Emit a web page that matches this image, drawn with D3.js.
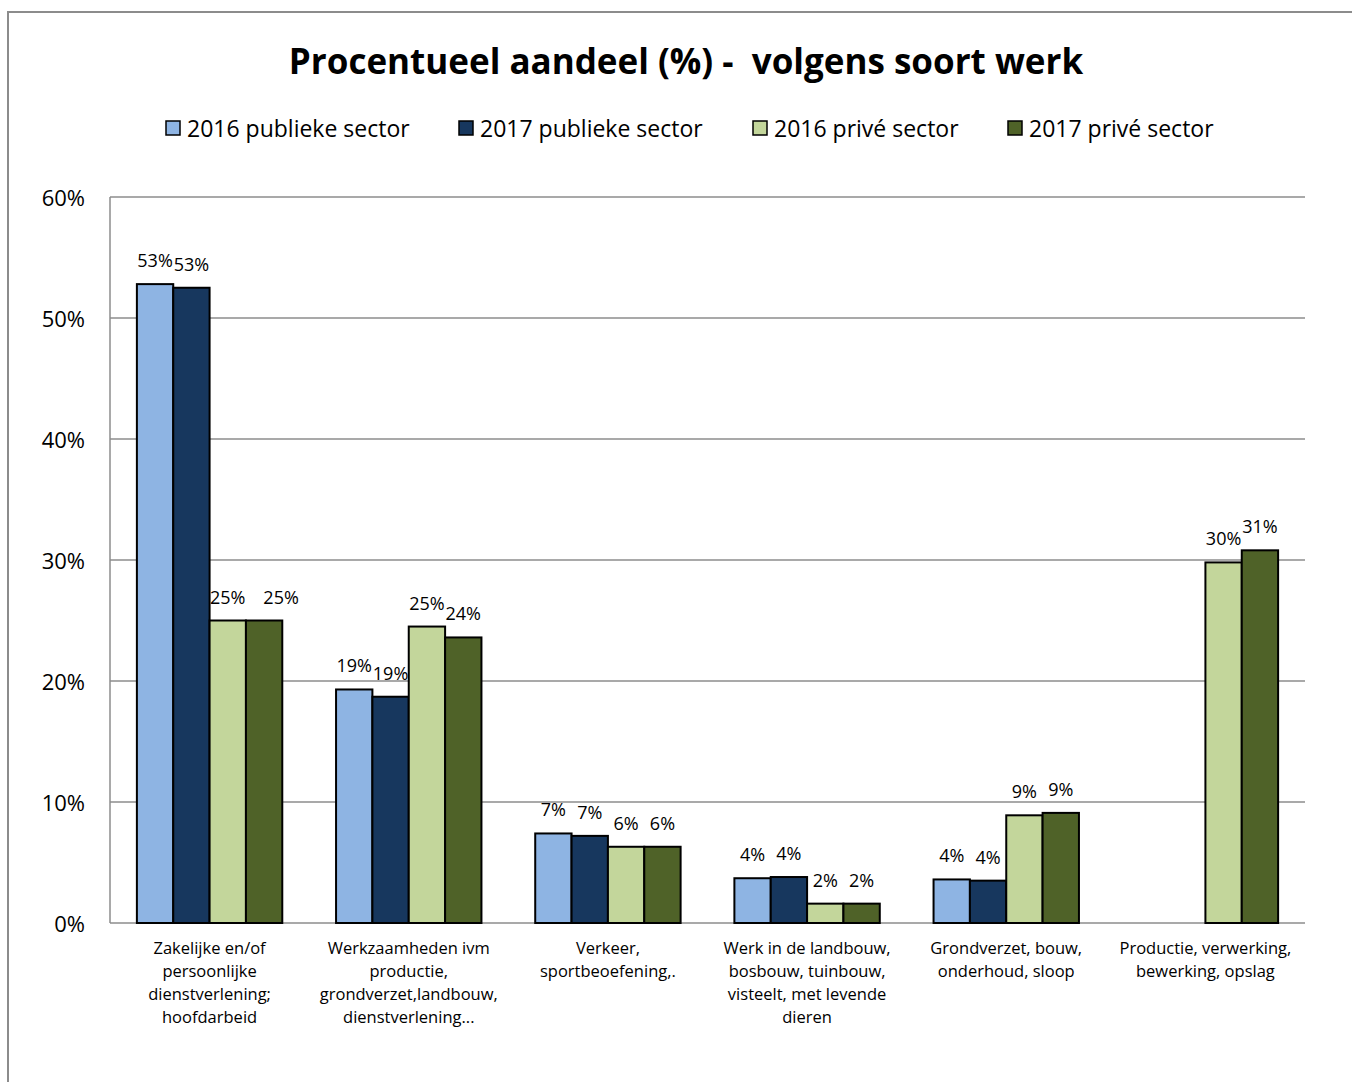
<!DOCTYPE html>
<html>
<head>
<meta charset="utf-8">
<script src="https://d3js.org/d3.v7.min.js"></script>
<style>
  body { margin: 0; background: #fff; }
  svg { font-family: "Open Sans", Lato, sans-serif; }
</style>
</head>
<body>
<svg width="1352" height="1082"></svg>
<script>
// chart data
var categories = [
  ["Zakelijke en/of", "persoonlijke", "dienstverlening;", "hoofdarbeid"],
  ["Werkzaamheden ivm", "productie,", "grondverzet,landbouw,", "dienstverlening..."],
  ["Verkeer,", "sportbeoefening,."],
  ["Werk in de landbouw,", "bosbouw, tuinbouw,", "visteelt, met levende", "dieren"],
  ["Grondverzet, bouw,", "onderhoud, sloop"],
  ["Productie, verwerking,", "bewerking, opslag"]
];
var seriesNames = ["2016 publieke sector", "2017 publieke sector", "2016 privé sector", "2017 privé sector"];
var pub2016 = [52.8, 19.3, 7.4, 3.7, 3.6, null];
var pub2017 = [52.5, 18.7, 7.2, 3.8, 3.5, null];
var priv2016 = [25.0, 24.5, 6.3, 1.6, 8.9, 29.8];
var priv2017 = [25.0, 23.6, 6.3, 1.6, 9.1, 30.8];
var yTicks = [0, 10, 20, 30, 40, 50, 60];

var colors = ["#8eb4e3", "#17375e", "#c3d69b", "#4f6228"];
var series = [pub2016, pub2017, priv2016, priv2017];

var svg = d3.select("svg");

// outer chart frame
svg.append("rect")
    .attr("x", 8).attr("y", 12)
    .attr("width", 1400).attr("height", 1100)
    .attr("fill", "none")
    .attr("stroke", "#8c8c8c")
    .attr("stroke-width", 2);

var plotL = 110, plotR = 1305, plotT = 197, plotB = 923;

var x = d3.scaleBand()
    .domain(d3.range(categories.length))
    .range([plotL, plotR])
    .paddingInner(0.27)
    .paddingOuter(0.135);

var xs = d3.scaleBand()
    .domain(d3.range(series.length))
    .range([0, x.bandwidth()]);

var y = d3.scaleLinear()
    .domain([0, 60])
    .range([plotB, plotT]);

// gridlines
svg.append("g")
    .selectAll("line")
    .data(yTicks)
    .enter()
    .append("line")
    .attr("x1", plotL).attr("x2", plotR)
    .attr("y1", function(d){ return y(d) })
    .attr("y2", function(d){ return y(d) })
    .attr("stroke", "#8c8c8c")
    .attr("stroke-width", 1.5);

// y axis line
svg.append("line")
    .attr("x1", plotL).attr("x2", plotL)
    .attr("y1", plotT).attr("y2", plotB)
    .attr("stroke", "#8c8c8c")
    .attr("stroke-width", 1.5);

// y tick labels
svg.append("g")
    .selectAll("text")
    .data(yTicks)
    .enter()
    .append("text")
    .attr("x", 85)
    .attr("y", function(d){ return y(d) })
    .attr("text-anchor", "end")
    .attr("dominant-baseline", "central")
    .style("font-size", "22px")
    .text(function(d){ return d + "%" });

// bars
var groups = svg.append("g")
    .selectAll("g")
    .data(series)
    .enter()
    .append("g");

groups.selectAll("rect")
    .data(function(s, si){ return s.map(function(v, ci){ return {v: v, si: si, ci: ci} }) })
    .enter()
    .filter(function(d){ return d.v !== null })
    .append("rect")
    .attr("x", function(d){ return x(d.ci) + xs(d.si) })
    .attr("y", function(d){ return y(d.v) })
    .attr("width", xs.bandwidth())
    .attr("height", function(d){ return y(0) - y(d.v) })
    .attr("fill", function(d){ return colors[d.si] })
    .attr("stroke", "#000")
    .attr("stroke-width", 2);

// data labels
groups.selectAll("text")
    .data(function(s, si){ return s.map(function(v, ci){ return {v: v, si: si, ci: ci} }) })
    .enter()
    .filter(function(d){ return d.v !== null })
    .append("text")
    .attr("x", function(d){
        var cx = x(d.ci) + xs(d.si) + xs.bandwidth() / 2;
        // excel nudged this one label to the right
        if (d.ci === 0 && d.si === 3) cx += 17;
        return cx;
    })
    .attr("y", function(d){ return y(d.v) - 24 })
    .attr("text-anchor", "middle")
    .attr("dominant-baseline", "central")
    .style("font-size", "18px")
    .text(function(d){ return Math.round(d.v) + "%" });

// x category labels
var xl = svg.append("g")
    .selectAll("text")
    .data(categories)
    .enter()
    .append("text")
    .attr("x", function(d, i){ return x(i) + x.bandwidth() / 2 })
    .attr("y", 948)
    .attr("text-anchor", "middle")
    .style("font-size", "16.5px");

xl.selectAll("tspan")
    .data(function(d){ return d })
    .enter()
    .append("tspan")
    .attr("x", function(){ return d3.select(this.parentNode).attr("x") })
    .attr("dy", function(d, i){ return i === 0 ? "0.35em" : "23px" })
    .text(function(d){ return d });

// title
svg.append("text")
    .attr("x", 686)
    .attr("y", 60)
    .attr("text-anchor", "middle")
    .attr("dominant-baseline", "central")
    .style("font-size", "35px")
    .style("font-weight", "bold")
    .style("white-space", "pre")
    .text("Procentueel aandeel (%) -  volgens soort werk");

// legend
var legendX = [166, 459, 753, 1008];
var legend = svg.append("g")
    .selectAll("g")
    .data(seriesNames)
    .enter()
    .append("g")
    .attr("transform", function(d, i){ return "translate(" + legendX[i] + ",128)" });

legend.append("rect")
    .attr("x", 0).attr("y", -7)
    .attr("width", 14).attr("height", 14)
    .attr("fill", function(d, i){ return colors[i] })
    .attr("stroke", "#000")
    .attr("stroke-width", 1.5);

legend.append("text")
    .attr("x", 21)
    .attr("y", 0)
    .attr("dominant-baseline", "central")
    .style("font-size", "23px")
    .text(function(d){ return d });
</script>
</body>
</html>
